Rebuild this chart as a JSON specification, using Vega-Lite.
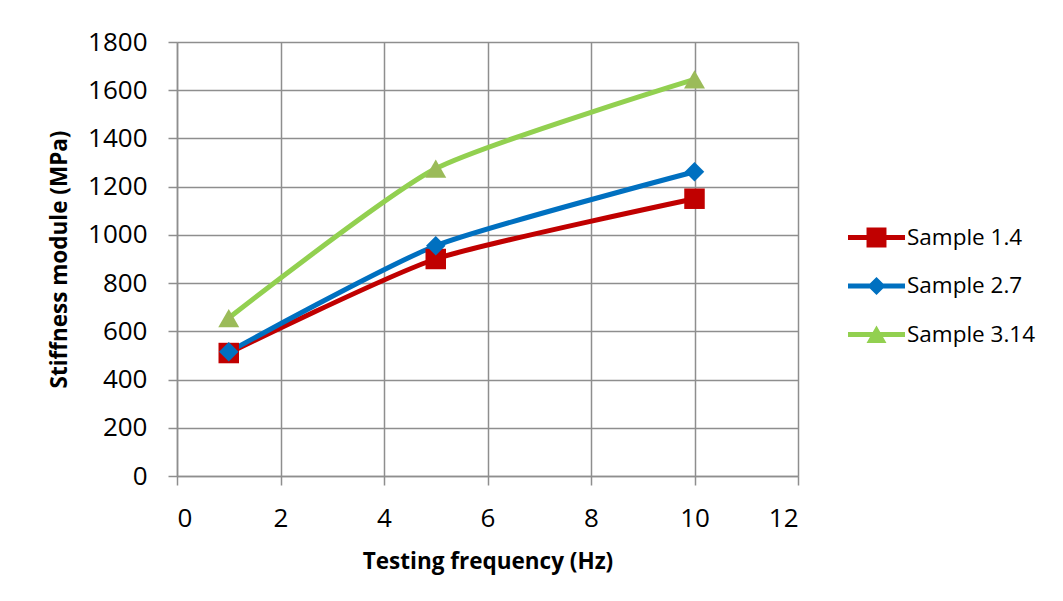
{
  "$schema": "https://vega.github.io/schema/vega-lite/v6.json",
  "width": 621,
  "height": 434,
  "autosize": {"type": "none"},
  "padding": {"left": 177, "top": 42, "right": 265, "bottom": 125},
  "background": "white",
  "data": {
    "values": [
      {"series": "Sample 1.4", "freq": 1, "stiffness": 510},
      {"series": "Sample 1.4", "freq": 5, "stiffness": 900},
      {"series": "Sample 1.4", "freq": 10, "stiffness": 1150},
      {"series": "Sample 2.7", "freq": 1, "stiffness": 515},
      {"series": "Sample 2.7", "freq": 5, "stiffness": 955},
      {"series": "Sample 2.7", "freq": 10, "stiffness": 1262},
      {"series": "Sample 3.14", "freq": 1, "stiffness": 655},
      {"series": "Sample 3.14", "freq": 5, "stiffness": 1275},
      {"series": "Sample 3.14", "freq": 10, "stiffness": 1645}
    ]
  },
  "encoding": {
    "x": {
      "field": "freq",
      "type": "quantitative",
      "scale": {"domain": [0, 12], "nice": false},
      "axis": {
        "title": "Testing frequency (Hz)",
        "values": [0, 2, 4, 6, 8, 10, 12],
        "format": "d",
        "tickSize": 9,
        "labelPadding": 20,
        "titlePadding": 19
      }
    },
    "y": {
      "field": "stiffness",
      "type": "quantitative",
      "scale": {"domain": [0, 1800], "nice": false},
      "axis": {
        "title": "Stiffness module (MPa)",
        "values": [0, 200, 400, 600, 800, 1000, 1200, 1400, 1600, 1800],
        "format": "d",
        "tickSize": 9,
        "labelPadding": 21,
        "titlePadding": 16
      }
    }
  },
  "layer": [
    {
      "mark": {"type": "line", "interpolate": "cardinal", "tension": 0.4, "strokeWidth": 5},
      "encoding": {
        "color": {
          "field": "series",
          "type": "nominal",
          "scale": {
            "domain": ["Sample 1.4", "Sample 2.7", "Sample 3.14"],
            "range": ["#C00000", "#0070C0", "#92D050"]
          },
          "legend": {
            "title": null,
            "orient": "none",
            "legendX": 671,
            "legendY": 167,
            "symbolSize": 3249,
            "symbolStrokeWidth": 0,
            "labelFontSize": 22.5,
            "labelColor": "#000000",
            "labelOffset": 2,
            "rowPadding": 8.5,
            "labelLimit": 300,
            "encode": {
              "symbols": {
                "update": {
                  "shape": {"signal": "datum.value === 'Sample 1.4' ? 'M-1,-0.09H1V0.09H-1Z M-0.35,-0.35H0.35V0.35H-0.35Z' : datum.value === 'Sample 2.7' ? 'M-1,-0.09H1V0.09H-1Z M0,-0.32L0.32,0L0,0.32L-0.32,0Z' : 'M-1,-0.09H1V0.09H-1Z M0,-0.32L0.35,0.3L-0.35,0.3Z'"},
                  "fill": {"signal": "datum.value === 'Sample 1.4' ? '#C00000' : datum.value === 'Sample 2.7' ? '#0070C0' : '#92D050'"},
                  "fillOpacity": {"value": 1},
                  "strokeWidth": {"value": 0}
                }
              }
            }
          }
        }
      }
    },
    {
      "transform": [{"filter": "datum.series === 'Sample 1.4'"}],
      "mark": {"type": "point", "shape": "square", "filled": true, "opacity": 1, "size": 420, "color": "#C00000"}
    },
    {
      "transform": [{"filter": "datum.series === 'Sample 2.7'"}],
      "mark": {"type": "point", "shape": "diamond", "filled": true, "opacity": 1, "size": 380, "color": "#0070C0"}
    },
    {
      "transform": [{"filter": "datum.series === 'Sample 3.14'"}],
      "mark": {"type": "point", "shape": "triangle-up", "filled": true, "opacity": 1, "size": 440, "color": "#9BBB59"}
    }
  ],
  "config": {
    "font": "Open Sans",
    "view": {"stroke": null},
    "axis": {
      "grid": true,
      "gridColor": "#8E8E8E",
      "gridWidth": 1.5,
      "gridOpacity": 1,
      "domainColor": "#8E8E8E",
      "domainWidth": 1.5,
      "tickColor": "#8E8E8E",
      "tickWidth": 1.5,
      "labelFontSize": 26,
      "labelColor": "#000000",
      "labelFont": "Open Sans",
      "titleFontSize": 22.5,
      "titleFontWeight": "bold",
      "titleColor": "#000000",
      "titleFont": "Open Sans"
    }
  }
}
